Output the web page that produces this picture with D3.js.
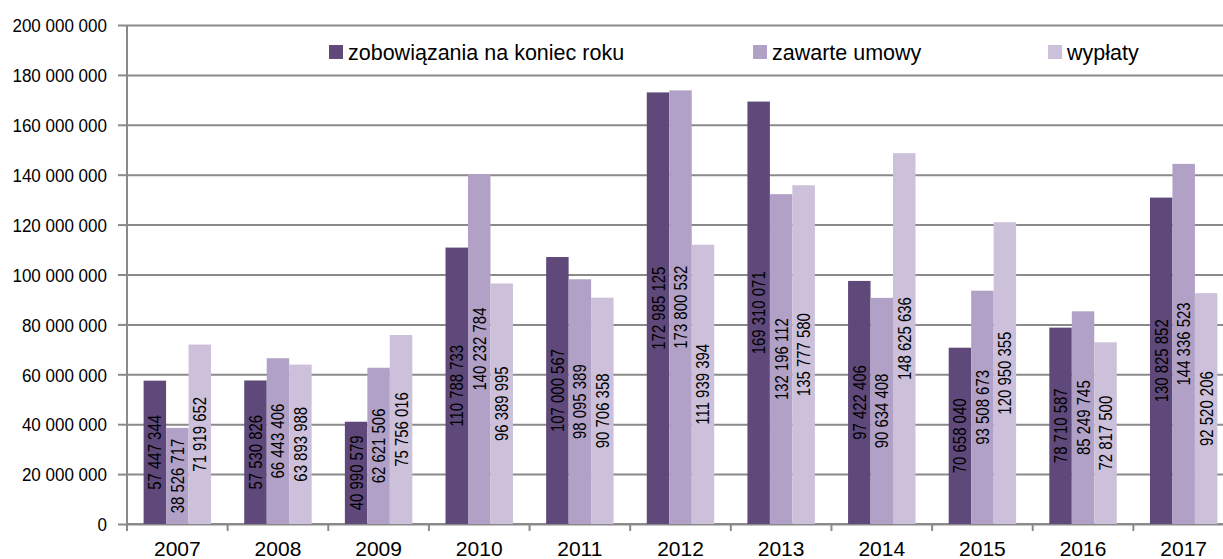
<!DOCTYPE html>
<html>
<head>
    <title>Zobowiazania, umowy, wyplaty</title>
</head>

<style>

body {
    margin: 0;
    background: #fff;
}

svg text {
    font-family: "Liberation Sans", Arial, sans-serif;
    fill: #000;
}

.grid line {
    stroke: #8a8a8a;
    stroke-width: 2px;
}

.axis .tick line {
    stroke: #8a8a8a;
    stroke-width: 2px;
}

</style>

<body>
<script src="https://d3js.org/d3.v7.min.js"></script>
<script type="text/javascript">

// Data

var years = ["2007", "2008", "2009", "2010", "2011", "2012", "2013", "2014", "2015", "2016", "2017"];

var zobowiazania = [57447344, 57530826, 40990579, 110788733, 107000567, 172985125,
                    169310071, 97422406, 70658040, 78710587, 130825852];

var zawarte = [38526717, 66443406, 62621506, 140232784, 98095389, 173800532,
               132196112, 90634408, 93508673, 85249745, 144336523];

var wyplaty = [71919652, 63893988, 75756016, 96389995, 90706358, 111939394,
               135777580, 148625636, 120950355, 72817500, 92520206];

var seriesNames = ["zobowiązania na koniec roku", "zawarte umowy", "wypłaty"];
var yTicks = [0, 20000000, 40000000, 60000000, 80000000, 100000000,
              120000000, 140000000, 160000000, 180000000, 200000000];

var colours = ["#5f497a", "#b2a1c7", "#ccc0da"];

var series = [zobowiazania, zawarte, wyplaty];

// Dimensions
var width = 1223, height = 559;
var plotLeft = 127, plotRight = 1234, plotTop = 25, plotBottom = 524;

var fmt = function(v) { return d3.format(",")(v).replace(/,/g, " "); };

var x0 = d3.scaleBand()
    .domain(years)
    .range([plotLeft, plotRight])
    .paddingInner(0.33)
    .paddingOuter(0.165);

var x1 = d3.scaleBand()
    .domain([0, 1, 2])
    .range([0, x0.bandwidth()]);

var y = d3.scaleLinear()
    .domain([0, 200000000])
    .range([plotBottom, plotTop]);

var svg = d3.select("body").append("svg")
    .attr("width", width)
    .attr("height", height);

// Gridlines + y axis
var yAxis = svg.append("g")
    .attr("class", "axis grid")
    .attr("transform", "translate(" + plotLeft + ",0)")
    .call(d3.axisLeft(y).tickValues(yTicks).tickFormat(fmt).tickSizeOuter(0).tickSize(9));

yAxis.selectAll(".tick")
    .append("line")
    .attr("x1", 0)
    .attr("x2", width - plotLeft);

// labels look a bit condensed in the original
yAxis.selectAll(".tick text")
    .attr("x", null)
    .attr("dy", null)
    .attr("transform", "translate(-20,0) scale(0.915,1)")
    .attr("dy", "0.36em")
    .style("font-size", "18.6px");

yAxis.select(".domain").remove();

svg.append("line")
    .attr("x1", plotLeft).attr("x2", plotLeft)
    .attr("y1", y(200000000)).attr("y2", y(0))
    .attr("stroke", "#8a8a8a")
    .attr("stroke-width", 2);

// x axis: tick marks between categories
var step = x0.step();
var xAxis = svg.append("g")
    .attr("class", "axis")
    .attr("transform", "translate(0," + y(0) + ")");

xAxis.append("line")
    .attr("x1", plotLeft).attr("x2", width)
    .attr("stroke", "#8a8a8a")
    .attr("stroke-width", 2);

xAxis.selectAll(".sep")
    .data(years)
    .enter().append("line")
    .attr("class", "sep")
    .attr("x1", function(d, i) { return plotLeft + i * step; })
    .attr("x2", function(d, i) { return plotLeft + i * step; })
    .attr("y1", 0)
    .attr("y2", 7)
    .attr("stroke", "#8a8a8a")
    .attr("stroke-width", 2);

xAxis.selectAll(".year")
    .data(years)
    .enter().append("text")
    .attr("class", "year")
    .attr("x", function(d) { return x0(d) + x0.bandwidth() / 2; })
    .attr("y", 32)
    .attr("text-anchor", "middle")
    .style("font-size", "21px")
    .text(function(d) { return d; });

// Bars
var groups = svg.selectAll(".year-group")
    .data(years)
    .enter().append("g")
    .attr("class", "year-group")
    .attr("transform", function(d) { return "translate(" + x0(d) + ",0)"; });

var cells = groups.selectAll(".cell")
    .data(function(d, i) { return series.map(function(s, k) { return {k: k, v: s[i]}; }); })
    .enter().append("g")
    .attr("class", "cell");

cells.append("rect")
    .attr("x", function(d) { return x1(d.k); })
    .attr("width", x1.bandwidth())
    .attr("y", function(d) { return y(d.v); })
    .attr("height", function(d) { return y(0) - y(d.v); })
    .attr("fill", function(d) { return colours[d.k]; });

cells.append("text")
    .attr("transform", function(d) {
        var cx = x1(d.k) + x1.bandwidth() / 2;
        var cy = (y(d.v) + y(0)) / 2;
        return "translate(" + cx + "," + cy + ") rotate(-90) scale(0.83,1)";
    })
    .attr("text-anchor", "middle")
    .attr("dy", "0.36em")
    .style("font-size", "18px")
    .text(function(d) { return fmt(d.v); });

// Legend
var legendX = [329, 753, 1048];
var legend = svg.selectAll(".legend")
    .data(seriesNames)
    .enter().append("g")
    .attr("class", "legend")
    .attr("transform", function(d, i) { return "translate(" + legendX[i] + ",45)"; });

legend.append("rect")
    .attr("width", 14)
    .attr("height", 14)
    .attr("fill", function(d, i) { return colours[i]; });

legend.append("text")
    .attr("x", 19)
    .attr("y", 7)
    .attr("dy", "0.35em")
    .style("font-size", "21.5px")
    .text(function(d) { return d; });

</script>
</body>
</html>
